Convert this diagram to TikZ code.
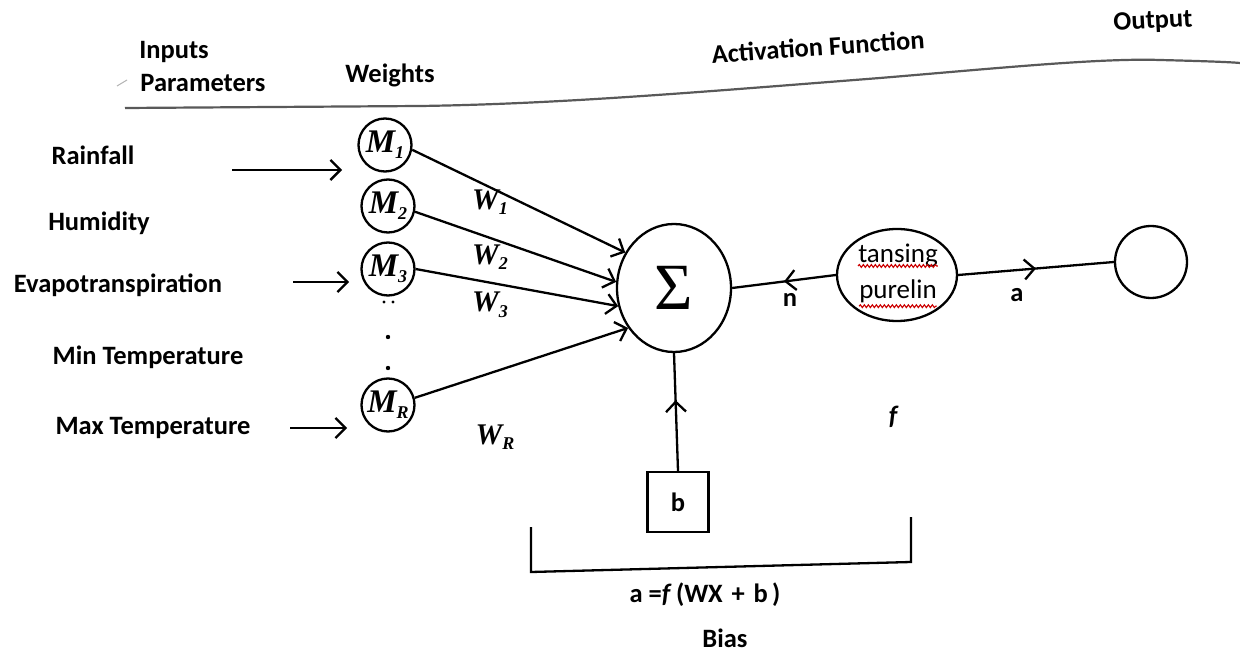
\documentclass[tikz,border=0pt]{standalone}
\usepackage{fontspec}
\setmainfont{Carlito}
\newfontfamily\tnr{Liberation Serif}
\usetikzlibrary{arrows.meta,decorations.markings,decorations.pathmorphing,shapes.geometric}
\newcommand{\subl}[2]{#1\raisebox{-0.4ex}{\fontsize{18}{18}\selectfont #2}}
\begin{document}
\begin{tikzpicture}[x=1pt,y=-1pt,
  lab/.style={font=\fontsize{26.5}{30}\selectfont\bfseries, inner sep=0pt},
  wlab/.style={font=\fontsize{30}{32}\selectfont\tnr\bfseries\itshape, inner sep=0pt},
  mnode/.style={circle, draw, line width=2.3pt, minimum size=53pt, inner sep=0pt, font=\fontsize{33}{34}\selectfont\tnr\bfseries\itshape},
  conn/.style={line width=2.3pt},
  tip/.style={-{Straight Barb[length=10pt,width=20pt]}},
  midfwd/.style={decoration={markings, mark=at position #1 with {\arrow{Straight Barb[length=10pt,width=20pt]}}}, postaction=decorate},
  midback/.style={decoration={markings, mark=at position #1 with {\arrowreversed{Straight Barb[length=10pt,width=20pt]}}}, postaction=decorate},
  wavy/.style={red!80!black, line width=1.1pt, decorate, decoration={snake, amplitude=1.4pt, segment length=4pt}},
]
\fill[white] (0,0) rectangle (1240,652);
\useasboundingbox (0,0) rectangle (1240,652);

% headings
\node[lab] (inputs) at (174,52) {Inputs};
\node[lab] (params) at (203,83) {Parameters};
\node[lab] (weights) at (390,75) {Weights};
\node[lab, rotate=4] (actf) at (818,47) {Activation Function};
\node[lab, rotate=3] (output) at (1153,22) {Output};
\draw[gray!60, line width=1pt] (117,86) -- (127,80);
\draw[gray!70!black, line width=2.2pt] (125,108) -- (420,106)
  .. controls (560,104) and (700,92) .. (880,78)
  .. controls (1000,68) and (1100,58) .. (1160,60)
  .. controls (1200,61) and (1230,62) .. (1240,63);

% input labels
\node[lab] (rain) at (93,155) {Rainfall};
\node[lab] (hum) at (99,223) {Humidity};
\node[lab] (evap) at (118,285) {Evapotranspiration};
\node[lab] (minT) at (148,357) {Min Temperature};
\node[lab] (maxT) at (153,428) {Max Temperature};

% weight nodes
\node[mnode] (m1) at (385,145) {\subl{M}{1}};
\node[mnode] (m2) at (388,206) {\subl{M}{2}};
\node[mnode] (m3) at (388,269) {\subl{M}{3}};
\node[mnode] (mr) at (388,405) {\subl{M}{R}};
\fill (384,302) circle (1.7pt);
\fill (393,302) circle (1.7pt);
\fill (388,337) circle (2.2pt);
\fill (388,368) circle (2.2pt);

% input arrows
\coordinate (s1) at (232,170);
\coordinate (s3) at (293,282);
\coordinate (s5) at (290,428);
\draw[conn, tip] (s1) -- ++(110,0);
\draw[conn, tip] (s3) -- ++(56,0);
\draw[conn, tip] (s5) -- ++(57,0);

% summation
\node[ellipse, draw, line width=2.3pt, minimum width=114pt, minimum height=128pt, inner sep=0pt] (sig) at (674,288) {\tnr\fontsize{66}{70}\selectfont Σ};

\draw[conn, tip] (m1.-10) -- (sig.144);
\draw[conn, tip] (m2.-12) -- (sig.174);
\draw[conn, tip] (m3.0) -- (sig.198);
\draw[conn, tip] (mr.15) -- (sig.221);

\node[wlab] (w1) at (490,202) {\subl{W}{1}};
\node[wlab] (w2) at (490,257) {\subl{W}{2}};
\node[wlab] (w3) at (490,305) {\subl{W}{3}};
\node[wlab] (wr) at (495,437) {\subl{W}{R}};

% transfer function
\node[ellipse, draw, line width=2.3pt, minimum width=120pt, minimum height=92pt, inner sep=0pt] (tf) at (897,275) {};
\node[font=\fontsize{27}{30}\selectfont, inner sep=0pt] (t1) at (898,256) {tansing};
\node[font=\fontsize{27}{30}\selectfont, inner sep=0pt] (t2) at (898,291) {purelin};
\draw[wavy] ([yshift=-3pt]t1.base west) -- ([yshift=-3pt]t1.base east);
\draw[wavy] ([yshift=-8pt]t2.base west) -- ([yshift=-8pt]t2.base east);

\node[circle, draw, line width=2.3pt, minimum size=72pt] (outc) at (1151,262) {};

\draw[conn, midback=0.5] (sig.east) -- (tf.west);
\draw[conn, midfwd=0.5] (tf.east) -- (outc.west);
\node[lab] (nlab) at (790,300) {n};
\node[lab] (alab) at (1017,295) {a};

% bias
\node[draw, line width=2.3pt, minimum width=61pt, minimum height=60pt, lab] (bbox) at (678,502) {b};
\draw[conn, midfwd=0.6] (bbox.north) -- (sig.south);
\node[lab] (flab) at (893,417) {\itshape f};

% bracket
\coordinate (bl) at (531,527);
\coordinate (br) at (911,517);
\draw[conn] (bl) -- (531,572) -- (911,562) -- (br);
\node[lab] (formula) at (705,595) {a =\textit{f}\,(WX\,\,+\,\,b\,)};
\node[lab] (bias) at (725,638) {Bias};
\end{tikzpicture}
\end{document}
